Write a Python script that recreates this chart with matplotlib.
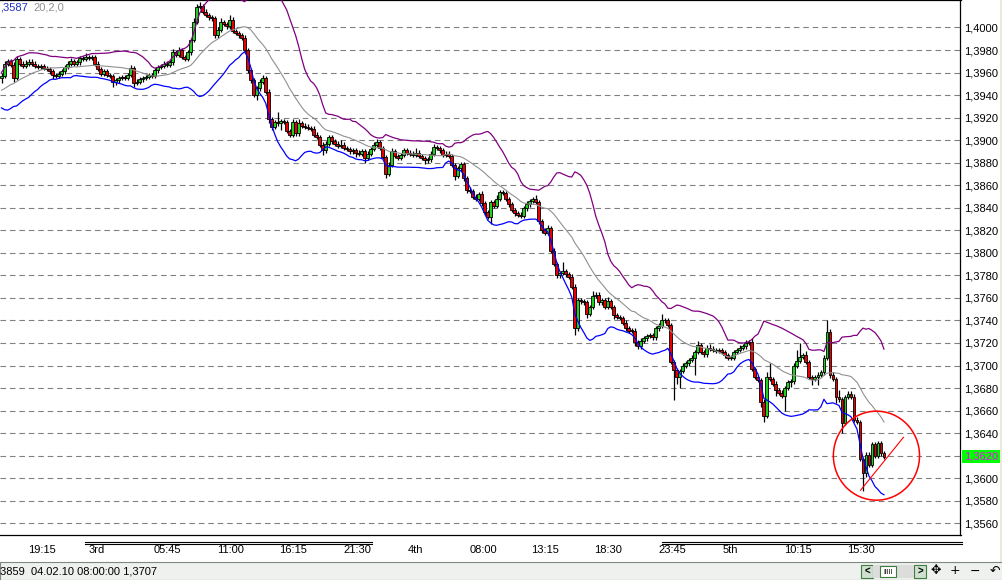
import numpy as np
import pandas as pd
import matplotlib
matplotlib.use('Agg')
import matplotlib.pyplot as plt
from matplotlib.patches import Ellipse, Rectangle
from matplotlib.lines import Line2D

plt.rcParams['font.family'] = ['Liberation Sans', 'DejaVu Sans']
plt.rcParams['font.size'] = 8

# 15 min closes, pips above 1.3000 (open = previous close)
close_pips = [
    957, 968, 970, 967, 955, 972, 968, 966, 968, 969,
    968, 966, 965, 966, 964, 963, 961, 958, 957, 959,
    961, 965, 968, 970, 968, 969, 973, 972, 974, 973,
    974, 968, 963, 959, 961, 958, 957, 952, 953, 955,
    956, 955, 958, 964, 951, 952, 954, 955, 956, 958,
    957, 962, 965, 966, 968, 967, 969, 978, 976, 980,
    974, 972, 978, 989, 1005, 1018, 1019, 1014, 1011, 1009,
    1008, 993, 998, 1005, 1003, 1001, 1007, 997, 995, 993,
    991, 980, 962, 953, 940, 946, 952, 955, 943, 919,
    912, 916, 915, 917, 916, 908, 905, 916, 906, 915,
    913, 912, 911, 910, 905, 903, 896, 891, 897, 903,
    899, 897, 895, 896, 893, 892, 890, 891, 889, 888,
    890, 884, 888, 892, 896, 898, 893, 885, 870, 878,
    890, 886, 884, 887, 891, 889, 888, 887, 889, 886,
    884, 882, 883, 888, 894, 893, 891, 887, 888, 886,
    878, 868, 875, 879, 866, 856, 855, 850, 848, 852,
    844, 836, 832, 845, 842, 848, 854, 853, 848, 843,
    838, 835, 834, 833, 840, 843, 846, 848, 845, 828,
    820, 818, 822, 802, 790, 780, 782, 784, 781, 779,
    770, 733, 758, 757, 756, 746, 752, 762, 763, 756,
    758, 752, 757, 752, 745, 743, 742, 738, 733, 731,
    731, 721, 717, 722, 724, 726, 727, 725, 733, 735,
    740, 740, 736, 703, 696, 690, 695, 700, 702, 705,
    707, 712, 718, 712, 710, 716, 715, 714, 713, 714,
    712, 709, 707, 707, 712, 714, 716, 717, 720, 721,
    697, 690, 687, 668, 655, 690, 688, 684, 678, 676,
    673, 680, 685, 686, 700, 704, 708, 709, 703, 690,
    688, 690, 692, 694, 707, 730, 692, 688, 672, 670,
    649, 672, 675, 672, 652, 650, 617, 605, 621, 612,
    630, 620, 631, 622, 619,
]
# bars left of the window, only used to warm up the bands
pre_pips = [940, 936, 932, 935, 938, 934, 937, 941, 944, 940,
            943, 947, 945, 949, 952, 950, 954, 958, 955]

wick_up = [
    3, 2, 2, 2, 2, 3, 2, 2, 3, 3,
    3, 2, 2, 2, 2, 2, 2, 2, 2, 2,
    2, 2, 2, 3, 2, 2, 2, 2, 3, 2,
    2, 2, 2, 2, 2, 2, 2, 2, 2, 2,
    2, 2, 2, 3, 2, 2, 2, 2, 2, 2,
    2, 2, 2, 2, 2, 2, 2, 3, 2, 3,
    2, 2, 2, 2, 3, 3, 4, 2, 2, 2,
    2, 2, 2, 3, 2, 2, 4, 2, 2, 2,
    2, 2, 2, 2, 2, 2, 2, 3, 2, 2,
    2, 2, 9, 2, 2, 2, 2, 3, 2, 4,
    2, 2, 2, 2, 3, 2, 2, 2, 2, 2,
    2, 2, 2, 4, 2, 2, 2, 2, 2, 2,
    2, 2, 2, 2, 2, 3, 2, 2, 2, 3,
    3, 2, 2, 2, 2, 2, 2, 2, 4, 2,
    2, 2, 2, 2, 3, 2, 2, 2, 2, 2,
    2, 2, 2, 2, 2, 2, 2, 2, 2, 2,
    3, 2, 2, 2, 2, 3, 2, 2, 2, 2,
    2, 2, 2, 2, 2, 3, 2, 2, 3, 2,
    2, 2, 3, 2, 2, 2, 2, 8, 2, 2,
    2, 2, 2, 2, 2, 2, 2, 4, 2, 2,
    2, 2, 4, 2, 2, 2, 2, 2, 2, 2,
    2, 2, 2, 2, 2, 2, 2, 2, 2, 3,
    6, 2, 2, 2, 2, 2, 2, 2, 2, 2,
    2, 2, 4, 2, 2, 2, 3, 2, 2, 2,
    2, 2, 2, 2, 2, 2, 2, 2, 3, 2,
    3, 2, 2, 2, 2, 4, 12, 2, 2, 2,
    2, 2, 2, 2, 2, 10, 12, 2, 4, 2,
    2, 2, 2, 2, 2, 10, 2, 2, 2, 6,
    2, 2, 2, 2, 3, 2, 2, 2, 2, 2,
    2, 2, 2, 2, 2,
]
wick_dn = [
    4, 2, 2, 2, 3, 2, 2, 2, 2, 2,
    2, 2, 2, 2, 2, 2, 2, 4, 2, 2,
    2, 2, 2, 2, 2, 2, 2, 2, 2, 2,
    2, 2, 2, 2, 2, 2, 2, 5, 3, 2,
    2, 2, 2, 2, 4, 2, 2, 2, 2, 2,
    2, 2, 2, 2, 2, 2, 2, 2, 2, 2,
    2, 2, 2, 2, 2, 2, 2, 2, 2, 2,
    2, 2, 2, 2, 2, 2, 2, 2, 2, 2,
    2, 2, 2, 2, 2, 4, 2, 2, 2, 4,
    3, 2, 2, 6, 2, 2, 2, 2, 2, 2,
    2, 2, 2, 2, 2, 2, 2, 4, 2, 2,
    2, 2, 2, 2, 2, 2, 2, 2, 4, 2,
    2, 4, 2, 2, 2, 2, 2, 2, 4, 2,
    2, 2, 2, 2, 2, 2, 2, 2, 2, 2,
    2, 3, 2, 2, 2, 2, 2, 2, 2, 2,
    2, 3, 2, 2, 2, 3, 2, 2, 2, 2,
    2, 2, 2, 6, 2, 2, 2, 2, 2, 2,
    2, 2, 2, 2, 2, 3, 2, 2, 2, 2,
    2, 2, 2, 2, 2, 2, 2, 2, 2, 2,
    2, 6, 2, 2, 2, 4, 2, 2, 2, 2,
    2, 2, 2, 2, 4, 2, 2, 2, 2, 2,
    2, 4, 2, 2, 2, 2, 2, 2, 2, 2,
    2, 2, 2, 2, 27, 6, 10, 2, 2, 2,
    2, 15, 2, 2, 2, 2, 2, 2, 2, 2,
    2, 2, 2, 2, 2, 2, 2, 2, 2, 2,
    2, 2, 2, 5, 5, 2, 2, 2, 5, 2,
    2, 13, 2, 4, 2, 2, 2, 2, 2, 2,
    5, 2, 7, 2, 2, 2, 3, 2, 5, 2,
    9, 2, 2, 2, 2, 2, 2, 16, 4, 2,
    2, 2, 2, 2, 2,
]

price_ticks = np.round(np.arange(1.3560, 1.40001, 0.0020), 4)
time_pos = [13.5, 31.8, 55.2, 76.2, 97.2, 118.5, 137.8, 160.5, 181.2, 202.2,
            223.5, 242.8, 265.2, 286.2]
time_labels = ['19:15', '3rd', '05:45', '11:00', '16:15', '21:30', '4th', '08:00',
               '13:15', '18:30', '23:45', '5th', '10:15', '15:30']
last_price = 1.3620
circle_center = (291.5, 1.3620)
circle_w, circle_h = 28.7, 0.0079
trend_x = [286.2, 300.5]
trend_y = [1.35893, 1.36363]

close = 1.3 + np.array(close_pips) / 10000
opn = np.r_[1.3 + pre_pips[-1] / 10000, close[:-1]]
hi = np.maximum(opn, close) + np.array(wick_up) / 10000
lo = np.minimum(opn, close) - np.array(wick_dn) / 10000
x = np.arange(len(close))

s = pd.Series(1.3 + np.array(pre_pips + close_pips) / 10000)
n0 = len(pre_pips)
mid = s.rolling(20).mean().to_numpy()[n0:]
sd = s.rolling(20).std(ddof=0).to_numpy()[n0:]

W, H = 1003, 580
fig = plt.figure(figsize=(W / 100, H / 100), dpi=100)


def fx(px):
    return px / W


def fy(py):
    return 1 - py / H


ax = fig.add_axes([0, fy(535), fx(960.5), 535 / H])
ax.set_xlim(-0.5, 319.5)
ax.set_ylim(1.35496, 1.40244)

ax.yaxis.tick_right()
ax.set_yticks(price_ticks, [f'{v:.4f}'.replace('.', ',') for v in price_ticks])
ax.tick_params(axis='y', length=0, pad=2.5, labelsize=8)
ax.set_xticks(time_pos, time_labels)
ax.tick_params(axis='x', length=0, pad=7.5, labelsize=8)
ax.grid(axis='y', color='#808080', lw=0.8, ls=(0, (5, 3.5)))
ax.set_axisbelow(True)
for side in ['top', 'right', 'bottom']:
    ax.spines[side].set_color('black')
    ax.spines[side].set_linewidth(0.9)
ax.spines['left'].set_visible(False)

for lbl in ax.get_yticklabels():
    if lbl.get_text() == f'{last_price:.4f}'.replace('.', ','):
        lbl.set_color('#ff00ff')
        lbl.set_bbox(dict(facecolor='#00ff00', edgecolor='none', pad=1.2))

# candles
colors = np.where(close > opn, '#20d020', '#e80000')
ax.vlines(x, lo, hi, color='black', lw=0.9, zorder=2)
ax.bar(x, np.maximum(np.abs(close - opn), 0.00005), bottom=np.minimum(opn, close),
       width=0.95, color=colors, edgecolor='black', linewidth=0.6, zorder=3)

# bollinger 20,2
ax.plot(x, mid, color='#909090', lw=0.8, zorder=4)
ax.plot(x, mid + 2 * sd, color='#800080', lw=0.9, zorder=4)
ax.plot(x, mid - 2 * sd, color='#0000ff', lw=0.9, zorder=4)

# drawn objects
ax.add_patch(Ellipse(circle_center, circle_w, circle_h, fill=False,
                     edgecolor='red', lw=1.1, zorder=5))
ax.plot(trend_x, trend_y, color='red', lw=0.8, zorder=5)

fig.text(fx(0), fy(8), ',3587', color='#2030c0', va='center', ha='left', fontsize=8)
fig.text(fx(33), fy(8), '20,2,0', color='#909090', va='center', ha='left', fontsize=8)

# period marks under the chart
for x0, x1 in [(85, 372), (662, 962)]:
    for yy in (541.5, 544):
        fig.add_artist(Line2D([fx(x0), fx(x1)], [fy(yy), fy(yy)],
                              transform=fig.transFigure, color='black', lw=0.8))

# right edge strip
fig.add_artist(Rectangle((fx(1000), fy(562)), fx(3), 562 / H, transform=fig.transFigure,
                         facecolor='#ece9d8', edgecolor='none'))

# status bar
fig.add_artist(Rectangle((0, 0), 1, 18 / H, transform=fig.transFigure,
                         facecolor='#eef1ee', edgecolor='#7f8a7f', lw=0.8))
fig.text(fx(0), fy(571), '3859  04.02.10 08:00:00 1,3707', va='center', ha='left',
         fontsize=8, color='black')
for bx in (861, 914):
    fig.add_artist(Rectangle((fx(bx), fy(578)), fx(12), 13 / H, transform=fig.transFigure,
                             facecolor='#cfe0cf', edgecolor='#3f7a3f', lw=0.8))
fig.text(fx(867), fy(571.5), '<', ha='center', va='center', fontsize=7, weight='bold')
fig.text(fx(920), fy(571.5), '>', ha='center', va='center', fontsize=7, weight='bold')
fig.add_artist(Rectangle((fx(873), fy(578)), fx(41), 13 / H, transform=fig.transFigure,
                         facecolor='#dcdcdc', edgecolor='none'))
fig.add_artist(Rectangle((fx(880), fy(577)), fx(16), 11 / H, transform=fig.transFigure,
                         facecolor='white', edgecolor='#3f7a3f', lw=0.8))
fig.text(fx(888), fy(572), 'IIIII', ha='center', va='center', fontsize=5)
for tx, t in [(936, '\u2725'), (955, '+'), (975, '\u2212'), (995, '\u21b6')]:
    fig.text(fx(tx), fy(571), t, ha='center', va='center', fontsize=9,
             family=['DejaVu Sans'])

fig.savefig('out.png', dpi=100)
